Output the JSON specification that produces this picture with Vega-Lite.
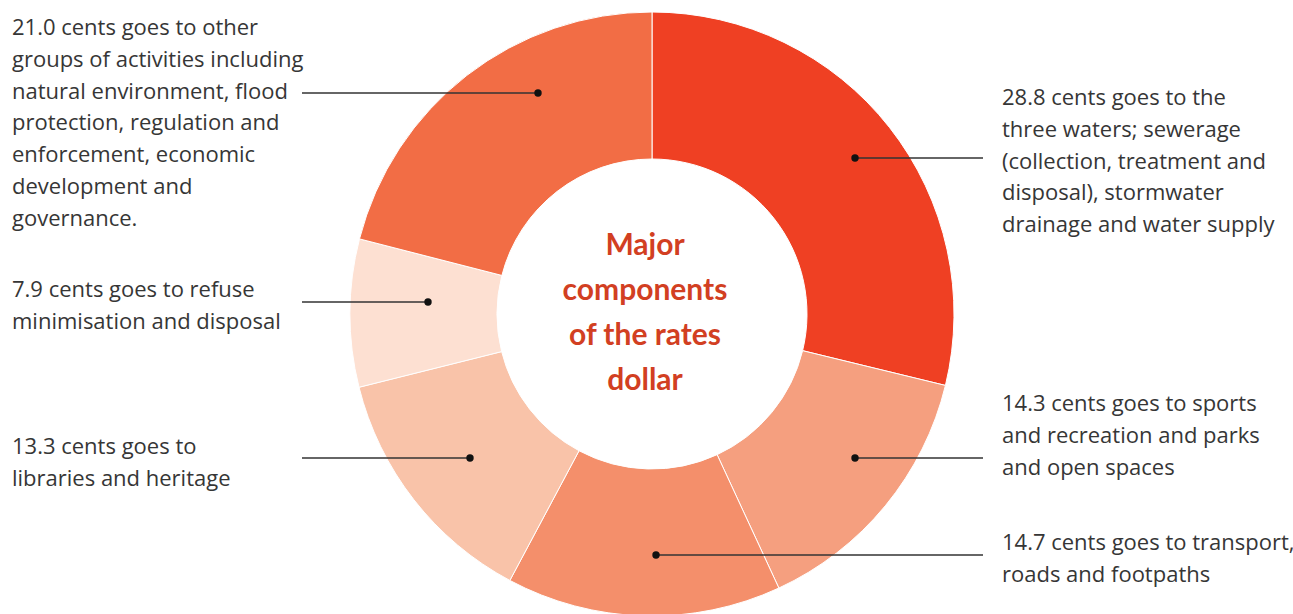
{
  "$schema": "https://vega.github.io/schema/vega-lite/v6.json",
  "width": 1293,
  "height": 614,
  "autosize": {"type": "fit", "contains": "padding"},
  "padding": {"left": 11, "top": 14, "right": 0, "bottom": 0},
  "background": "white",
  "config": {"view": {"stroke": null}},
  "datasets": {
    "slices": [
      {"category": "Three waters", "cents": 28.8, "order": 1},
      {"category": "Sports, recreation, parks and open spaces", "cents": 14.3, "order": 2},
      {"category": "Transport, roads and footpaths", "cents": 14.7, "order": 3},
      {"category": "Libraries and heritage", "cents": 13.3, "order": 4},
      {"category": "Refuse minimisation and disposal", "cents": 7.9, "order": 5},
      {"category": "Other groups of activities", "cents": 21.0, "order": 6}
    ],
    "notes": [
      {"category": "Other groups of activities", "text": "21.0 cents goes to other\ngroups of activities including\nnatural environment, flood\nprotection, regulation and\nenforcement, economic\ndevelopment and\ngovernance.", "tx": 12, "ty": 28, "dotX": 538, "lineX": 302, "lineY": 93},
      {"category": "Refuse minimisation and disposal", "text": "7.9 cents goes to refuse\nminimisation and disposal", "tx": 12, "ty": 290, "dotX": 428, "lineX": 302, "lineY": 302},
      {"category": "Libraries and heritage", "text": "13.3 cents goes to\nlibraries and heritage", "tx": 12, "ty": 447, "dotX": 470, "lineX": 302, "lineY": 458},
      {"category": "Three waters", "text": "28.8 cents goes to the\nthree waters; sewerage\n(collection, treatment and\ndisposal), stormwater\ndrainage and water supply", "tx": 1002, "ty": 98, "dotX": 855, "lineX": 983, "lineY": 158},
      {"category": "Sports, recreation, parks and open spaces", "text": "14.3 cents goes to sports\nand recreation and parks\nand open spaces", "tx": 1002, "ty": 404, "dotX": 855, "lineX": 983, "lineY": 458},
      {"category": "Transport, roads and footpaths", "text": "14.7 cents goes to transport,\nroads and footpaths", "tx": 1002, "ty": 543, "dotX": 656, "lineX": 983, "lineY": 555}
    ]
  },
  "layer": [
    {
      "data": {"name": "slices"},
      "mark": {"type": "arc", "outerRadius": 302, "innerRadius": 155, "stroke": "white", "strokeWidth": 1},
      "encoding": {
        "theta": {"field": "cents", "type": "quantitative", "stack": true},
        "order": {"field": "order", "type": "quantitative"},
        "color": {
          "field": "category",
          "type": "nominal",
          "legend": null,
          "scale": {
            "domain": ["Three waters", "Sports, recreation, parks and open spaces", "Transport, roads and footpaths", "Libraries and heritage", "Refuse minimisation and disposal", "Other groups of activities"],
            "range": ["#EF4023", "#F59F7F", "#F48F6B", "#F9C3A9", "#FDE0D2", "#F26D45"]
          }
        }
      }
    },
    {
      "data": {"name": "notes"},
      "mark": {"type": "rule", "stroke": "#333333", "strokeWidth": 1.5},
      "encoding": {
        "x": {"field": "dotX", "type": "quantitative", "scale": {"domain": [11, 1293], "nice": false, "zero": false}, "axis": null},
        "x2": {"field": "lineX"},
        "y": {"field": "lineY", "type": "quantitative", "scale": {"domain": [14, 614], "reverse": true, "nice": false, "zero": false}, "axis": null}
      }
    },
    {
      "data": {"name": "notes"},
      "mark": {"type": "circle", "size": 55, "color": "#111111", "opacity": 1},
      "encoding": {
        "x": {"field": "dotX", "type": "quantitative"},
        "y": {"field": "lineY", "type": "quantitative"}
      }
    },
    {
      "data": {"name": "notes"},
      "mark": {"type": "text", "align": "left", "baseline": "middle", "lineBreak": "\n", "lineHeight": 31.8, "font": "Open Sans", "fontSize": 22, "color": "#363636"},
      "encoding": {
        "x": {"field": "tx", "type": "quantitative"},
        "y": {"field": "ty", "type": "quantitative"},
        "text": {"field": "text", "type": "nominal"}
      }
    },
    {
      "data": {"values": [{"title": "Major\ncomponents\nof the rates\ndollar"}]},
      "mark": {"type": "text", "align": "center", "baseline": "middle", "lineBreak": "\n", "lineHeight": 45, "font": "Lato", "fontSize": 30, "fontWeight": "bold", "color": "#D23F22", "dx": -7, "dy": -68},
      "encoding": {
        "text": {"field": "title", "type": "nominal"}
      }
    }
  ]
}
